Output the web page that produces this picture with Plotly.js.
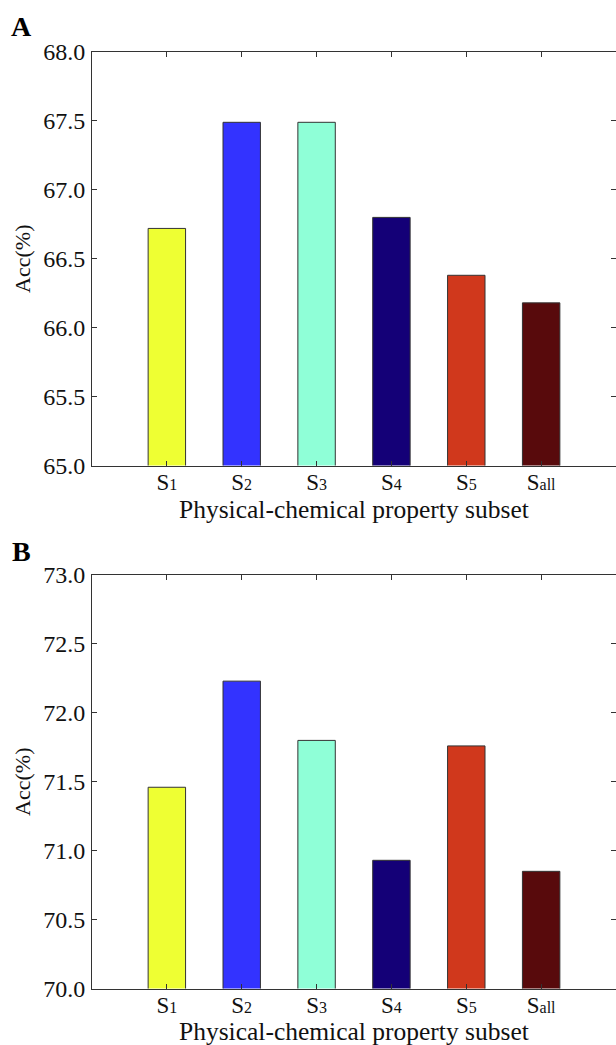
<!DOCTYPE html>
<html><head><meta charset="utf-8">
<script src="https://cdn.plot.ly/plotly-3.0.1.min.js"></script>
<style>html,body{margin:0;padding:0;background:#fff}#chart{width:616px;height:1045px}</style>
</head><body><div id="chart"></div>
<script>
const subsetNames = ["1","2","3","4","5","all"];
const positions = [1,2,3,4,5,6];
const accA = [66.72, 67.49, 67.49, 66.80, 66.38, 66.18];
const accB = [71.46, 72.23, 71.80, 70.93, 71.76, 70.85];
const barColors = ["#EEFF33","#3333FF","#8FFFD7","#140077","#D0381C","#580A0C"];
const yTicksA = [65.0,65.5,66.0,66.5,67.0,67.5,68.0];
const yTicksB = [70.0,70.5,71.0,71.5,72.0,72.5,73.0];
const xTitle = "Physical-chemical property subset";

const categories = subsetNames.map(s => 'S<span style="font-size:16px">' + s + '</span>');
const fontFam = "Liberation Serif, Times New Roman, serif";
function bar(vals, xa, ya){
  return {type:"bar", x:positions, y:vals, xaxis:xa, yaxis:ya, width:0.5,
    marker:{color:barColors, line:{color:"#333333", width:1}}, hoverinfo:"skip"};
}
function yax(ticks, dom){
  return {domain:dom, range:[ticks[0], ticks[ticks.length-1]], tickvals:ticks,
    ticktext:ticks.map(v=>v.toFixed(1)), ticks:"inside", ticklen:5, tickcolor:"#333",
    showline:true, linecolor:"#333", linewidth:1, mirror:"ticks", showgrid:false, zeroline:false,
    tickfont:{family:fontFam, size:24, color:"#111"}, ticklabelstandoff:1,
    title:{text:"Acc(%)", font:{family:fontFam, size:22, color:"#111"}, standoff:6}};
}
function xax(anchor){
  return {anchor:anchor, range:[0,7], tickvals:positions, ticktext:categories, ticks:"inside",
    ticklen:5, tickcolor:"#333", showline:true, linecolor:"#333", linewidth:1, mirror:"ticks",
    showgrid:false, zeroline:false, tickfont:{family:fontFam, size:23, color:"#111"},
    ticklabelstandoff:-4};
}
const H = 1045;
function py(px){ return 1 - px/H; }
const layout = {
  width:616, height:H, showlegend:false, paper_bgcolor:"#fff", plot_bgcolor:"#fff",
  margin:{l:92, r:0, t:0, b:0},
  xaxis: xax("y"),
  yaxis: yax(yTicksA, [py(465.5), py(52)]),
  xaxis2: xax("y2"),
  yaxis2: yax(yTicksB, [py(988.5), py(575)]),
  annotations:[
    {text:"<b>A</b>", xref:"paper", yref:"paper", x:-0.134, y:py(27), xanchor:"center", yanchor:"middle", showarrow:false, font:{family:fontFam, size:28, color:"#000"}},
    {text:"<b>B</b>", xref:"paper", yref:"paper", x:-0.134, y:py(551), xanchor:"center", yanchor:"middle", showarrow:false, font:{family:fontFam, size:28, color:"#000"}},
    {text:xTitle, xref:"paper", yref:"paper", x:0.5, y:py(509), xanchor:"center", yanchor:"middle", showarrow:false, font:{family:fontFam, size:25.5, color:"#111"}},
    {text:xTitle, xref:"paper", yref:"paper", x:0.5, y:py(1031), xanchor:"center", yanchor:"middle", showarrow:false, font:{family:fontFam, size:25.5, color:"#111"}}
  ]
};
Plotly.newPlot("chart", [bar(accA,"x","y"), bar(accB,"x2","y2")], layout, {staticPlot:true});
</script></body></html>
